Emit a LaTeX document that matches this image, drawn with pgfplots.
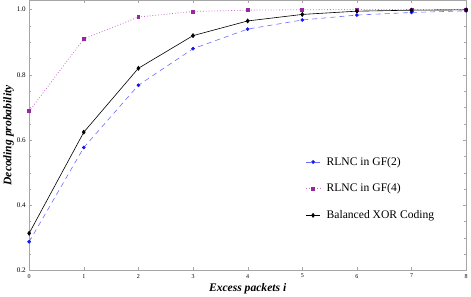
\documentclass[border=0pt]{standalone}
\usepackage{pgfplots}
\pgfplotsset{compat=1.18}
\usepackage{fontspec}
\setmainfont{Liberation Serif}
\definecolor{gfblue}{RGB}{20,20,245}
\definecolor{gfbluel}{RGB}{110,110,255}
\definecolor{gfpurp}{RGB}{150,40,160}
\definecolor{gfpurpl}{RGB}{200,110,210}
\begin{document}
\begin{tikzpicture}
\begin{axis}[
  scale only axis,
  width=432bp, height=267bp,
  xmin=0, xmax=8, ymin=0.2, ymax=1.028,
  xtick={0,...,8},
  ytick={0.2,0.4,0.6,0.8,1.0},
  minor y tick num=3,
  tick align=inside,
  major tick length=3pt, minor tick length=2pt,
  axis line style={gray!70, line width=0.8pt},
  tick style={gray!70},
  /pgf/number format/assume math mode=true,
  /pgf/number format/.cd, fixed, fixed zerofill, precision=1, /pgfplots/.cd,
  xticklabel style={font=\fontsize{6}{7}\selectfont, /pgf/number format/precision=0},
  yticklabel style={font=\fontsize{7}{8}\selectfont},
  xticklabel={\pgfmathprintnumber[fixed,precision=0]{\tick}},
  xlabel={\textbf{\textit{Excess packets i}}},
  ylabel={\textbf{\textit{Decoding probability}}},
  label style={font=\fontsize{11.5}{13}\selectfont},
  xlabel style={yshift=2pt},
  ylabel style={yshift=-4pt},
  legend style={draw=none, at={(0.625,0.435)}, anchor=north west, font=\fontsize{11.5}{13}\selectfont, row sep=13pt,
    /tikz/every even column/.append style={column sep=0pt}},
  legend cell align=left,
  legend image code/.code={\draw[mark repeat=2,mark phase=2] plot coordinates {(0cm,0cm) (0.25cm,0cm) (0.5cm,0cm)};},
  legend style={nodes={inner xsep=6pt}},
]
\addplot[gfbluel, dash pattern=on 5pt off 4pt, line width=0.6pt, mark=*, mark size=1.5pt, mark options={solid, draw=gfblue, fill=gfblue}]
 coordinates {(0,0.288) (1,0.577) (2,0.768) (3,0.880) (4,0.940) (5,0.968) (6,0.983) (7,0.991) (8,0.996)};
\addlegendentry{RLNC in GF(2)}
\addplot[gfpurpl, dotted, line width=0.8pt, mark=square*, mark size=1.4pt, mark options={solid, draw=gfpurp, fill=gfpurp}]
 coordinates {(0,0.688) (1,0.910) (2,0.977) (3,0.994) (4,0.998) (5,0.9995) (6,1.0) (7,1.0) (8,1.0)};
\addlegendentry{RLNC in GF(4)}
\addplot[black, line width=0.6pt, mark=diamond*, mark size=2pt, mark options={solid, fill=black}]
 coordinates {(0,0.314) (1,0.624) (2,0.820) (3,0.920) (4,0.965) (5,0.985) (6,0.995) (7,0.998) (8,0.999)};
\addlegendentry{Balanced XOR Coding}
\end{axis}
\end{tikzpicture}
\end{document}
